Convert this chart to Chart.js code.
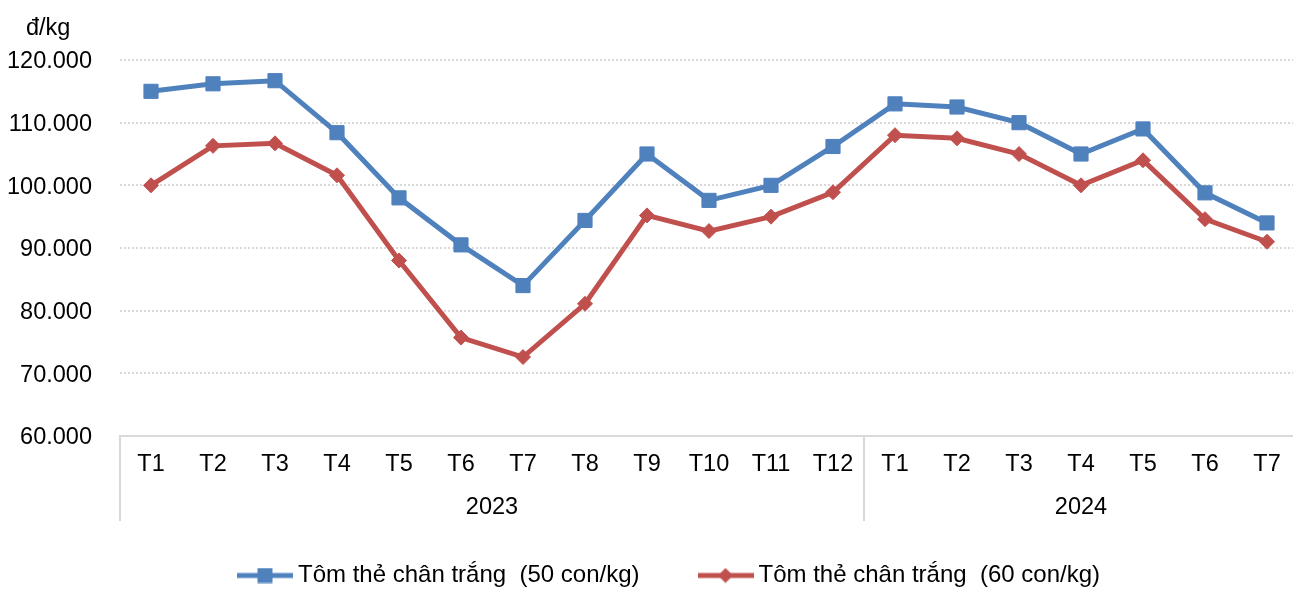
<!DOCTYPE html>
<html>
<head>
<meta charset="utf-8">
<script src="https://cdn.jsdelivr.net/npm/chart.js@4.4.0/dist/chart.umd.min.js"></script>
<style>
html,body{margin:0;padding:0;overflow:hidden;background:#fff}
#wrap{position:relative;width:1298px;height:590px}
</style>
</head>
<body>
<div id="wrap"><canvas id="c"></canvas></div>
<script>
// ---- data ----
const years = ['2023', '2024'];
const months2023 = ['T1','T2','T3','T4','T5','T6','T7','T8','T9','T10','T11','T12'];
const months2024 = ['T1','T2','T3','T4','T5','T6','T7'];
const seriesNames = ['Tôm thẻ chân trắng  (50 con/kg)', 'Tôm thẻ chân trắng  (60 con/kg)'];
const price50 = [115000,116200,116700,108400,98000,90500,84000,94400,105000,97600,100000,106200,113000,112500,110000,105000,109000,98800,94000];
const price60 = [100000,106300,106700,101600,88000,75700,72600,81100,95200,92700,95000,98900,108000,107500,105000,100000,104000,94600,91000];
const yUnit = 'đ/kg';
const yMin = 60000, yMax = 120000, yStep = 10000;

// ---- setup ----
const FONT = "'Liberation Sans', Arial, sans-serif";
const FS = 23.5;
const BLUE = '#4F81BD', RED = '#C0504D', GRID = '#D9D9D9';
const labels = months2023.concat(months2024);
const groupSizes = [months2023.length, months2024.length];

function legendImg(color, style) {
  const c = document.createElement('canvas');
  c.width = 56; c.height = 16;
  const g = c.getContext('2d');
  g.strokeStyle = color; g.lineWidth = 5;
  g.beginPath(); g.moveTo(0, 8); g.lineTo(56, 8); g.stroke();
  g.fillStyle = color;
  if (style === 'rect') {
    g.fillRect(20.5, 0.5, 15, 15);
  } else {
    g.beginPath(); g.moveTo(28, 0.5); g.lineTo(35.5, 8); g.lineTo(28, 15.5); g.lineTo(20.5, 8); g.closePath(); g.fill();
  }
  return c;
}
const legendImgs = [legendImg(BLUE, 'rect'), legendImg(RED, 'diamond')];

function fmt(v) {
  return String(Math.round(v)).replace(/\B(?=(\d{3})+(?!\d))/g, '.');
}

const groupPlugin = {
  id: 'groups',
  beforeDraw(chart) {
    // nudge y tick labels down slightly to centre the digits on the gridlines
    const s = chart.scales.y;
    if (s && s._computeLabelItems) {
      const items = s._computeLabelItems(chart.chartArea);
      items.forEach(it => { it.textOffset = (it.textOffset || 0) + 2; });
      s._labelItems = items;
    }
  },
  afterDraw(chart) {
    const xs = chart.scales.x;
    const {left, right, bottom} = chart.chartArea;
    const ctx = chart.ctx;
    ctx.save();
    ctx.strokeStyle = GRID; ctx.lineWidth = 2;
    const bounds = [left];
    let idx = 0;
    groupSizes.forEach(n => {
      idx += n;
      bounds.push(idx < labels.length ? (xs.getPixelForValue(idx - 1) + xs.getPixelForValue(idx)) / 2 : right);
    });
    bounds.forEach(b => {
      ctx.beginPath(); ctx.moveTo(b, bottom); ctx.lineTo(b, bottom + 85); ctx.stroke();
    });
    ctx.fillStyle = '#000';
    ctx.font = FS + 'px ' + FONT;
    ctx.textAlign = 'center'; ctx.textBaseline = 'middle';
    years.forEach((y, i) => {
      ctx.fillText(y, (bounds[i] + bounds[i + 1]) / 2, bottom + 72);
    });
    ctx.restore();
  }
};

const shiftPlugin = {
  id: 'shift',
  afterLayout(chart) {
    const t = chart.titleBlock;
    if (t) { t.left += 26; t.right += 26; }
    const l = chart.legend;
    if (l) { l.left += 23; l.right += 23; l.top += 7.5; l.bottom += 7.5; }
  }
};

new Chart(document.getElementById('c'), {
  type: 'line',
  data: {
    labels: labels,
    datasets: [
      {
        label: seriesNames[0], data: price50,
        borderColor: BLUE, backgroundColor: BLUE, borderWidth: 5,
        pointStyle: 'rect', pointRadius: 10, pointBorderWidth: 1,
        pointBackgroundColor: BLUE, pointBorderColor: BLUE, tension: 0
      },
      {
        label: seriesNames[1], data: price60,
        borderColor: RED, backgroundColor: RED, borderWidth: 5,
        pointStyle: 'rectRot', pointRadius: 7.5, pointBorderWidth: 1,
        pointBackgroundColor: RED, pointBorderColor: RED, tension: 0
      }
    ]
  },
  options: {
    responsive: true,
    maintainAspectRatio: false,
    animation: false,
    events: [],
    layout: { autoPadding: false, padding: { left: 0, right: 0, top: 0, bottom: 0 } },
    plugins: {
      tooltip: { enabled: false },
      title: {
        display: true, text: yUnit, align: 'start', color: '#000',
        font: { size: FS, family: FONT, weight: 'normal', lineHeight: 1.2 },
        padding: { top: 14, bottom: 17.8 }
      },
      legend: {
        display: true, position: 'bottom',
        labels: {
          usePointStyle: true, pointStyleWidth: 42, padding: 65,
          color: '#000', font: { size: 24, family: FONT },
          generateLabels(chart) {
            const items = Chart.defaults.plugins.legend.labels.generateLabels(chart);
            items.forEach((it, i) => { it.pointStyle = legendImgs[i]; });
            return items;
          }
        }
      }
    },
    scales: {
      x: {
        type: 'category', offset: true,
        grid: { display: false, drawTicks: false },
        border: { display: true, color: GRID, width: 2 },
        ticks: { autoSkip: false, maxRotation: 0, minRotation: 0, padding: 14, color: '#000', font: { size: FS, family: FONT } },
        afterFit(s) { s.height = 55; s.paddingLeft = 0; s.paddingRight = 0; }
      },
      y: {
        min: yMin, max: yMax,
        grid: { color: GRID, lineWidth: 2, drawTicks: false },
        border: { display: false, dash: [2, 2] },
        ticks: { stepSize: yStep, padding: 28, color: '#000', font: { size: FS, family: FONT }, callback: v => fmt(v) },
        afterFit(s) { s.width = 120; }
      }
    }
  },
  plugins: [groupPlugin, shiftPlugin]
});
</script>
</body>
</html>
